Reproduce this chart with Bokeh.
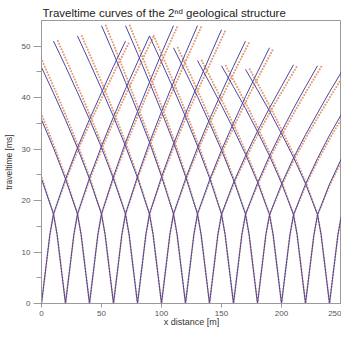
from bokeh.plotting import figure
from bokeh.models import Range1d, FixedTicker
from bokeh.embed import file_html
from bokeh.resources import INLINE

# shot positions [m] and offsets [m] at which traveltimes were read
SHOTS = [0, 20, 40, 60, 80, 100, 120, 140, 160, 180, 200, 220, 240]
OFFSETS = [0, 7, 10, 20, 30, 40, 50, 60, 70]

# traveltimes [ms] of the left-going branch of each shot (blue line)
LEFT_T = [
    [0, 13.4, 17.4, 24.2, 30.2, 35.7, 40.9, 45.9, 50.8],
    [0, 13.4, 17.4, 24.2, 30.2, 35.7, 40.9, 45.9, 50.8],
    [0, 13.4, 17.4, 24.2, 30.2, 35.7, 40.9, 45.9, 50.8],
    [0, 13.4, 17.4, 24.2, 30.2, 35.7, 40.9, 45.9, 50.8],
    [0, 13.4, 17.4, 24.2, 30.3, 35.8, 41.0, 46.1, 51.0],
    [0, 13.4, 17.4, 24.4, 30.6, 36.3, 41.7, 46.9, 52.0],
    [0, 13.4, 17.4, 24.7, 31.3, 37.3, 43.0, 48.6, 54.0],
    [0, 13.4, 17.4, 24.7, 31.3, 37.3, 43.0, 48.6, 54.0],
    [0, 13.4, 17.4, 24.4, 30.6, 36.3, 41.7, 46.9, 52.0],
    [0, 13.4, 17.4, 24.0, 29.8, 35.1, 40.2, 45.0, 49.7],
    [0, 13.4, 17.3, 23.6, 29.0, 33.9, 38.5, 42.9, 47.2],
    [0, 13.4, 17.3, 23.4, 28.7, 33.4, 37.9, 42.1, 46.2],
    [0, 13.4, 17.3, 23.3, 28.4, 33.0, 37.4, 41.5, 45.5],
]

# traveltimes [ms] of the right-going branch of each shot (blue line)
RIGHT_T = [
    [0, 13.4, 17.4, 24.2, 30.3, 35.8, 41.0, 46.1, 51.0],
    [0, 13.4, 17.4, 24.4, 30.6, 36.3, 41.7, 46.9, 52.0],
    [0, 13.4, 17.4, 24.7, 31.3, 37.3, 43.0, 48.6, 54.0],
    [0, 13.4, 17.4, 24.7, 31.3, 37.3, 43.0, 48.6, 54.0],
    [0, 13.4, 17.4, 24.6, 31.0, 36.9, 42.5, 47.9, 53.2],
    [0, 13.4, 17.4, 24.2, 30.3, 35.8, 41.0, 46.1, 51.0],
    [0, 13.4, 17.4, 24.0, 29.8, 35.1, 40.2, 45.0, 49.7],
    [0, 13.4, 17.3, 23.5, 28.7, 33.5, 38.0, 42.2, 46.4],
    [0, 13.4, 17.3, 23.4, 28.7, 33.4, 37.9, 42.1, 46.2],
    [0, 13.4, 17.2, 23.2, 28.3, 32.8, 37.0, 41.1, 45.0],
    [0, 13.3, 17.2, 23.2, 28.2, 32.7, 36.8, 40.8, 44.7],
    [0, 13.3, 17.2, 23.2, 28.2, 32.7, 36.8, 40.8, 44.7],
    [0, 13.3, 17.2, 23.2, 28.2, 32.7, 36.8, 40.8, 44.7],
]

# horizontal lag [m] of the dotted (second) curves relative to the lines
DOT_SHIFT = [0, 0, 0, 0.6, 1.2, 1.8, 2.4, 3.0, 3.6]

XTICKS = [0, 50, 100, 150, 200, 250]
YTICKS = [0, 10, 20, 30, 40, 50]

line_xs, line_ys, dot_xs, dot_ys = [], [], [], []
for s, lt, rt in zip(SHOTS, LEFT_T, RIGHT_T):
    lx = [s - o for o in OFFSETS][::-1] + [s + o for o in OFFSETS][1:]
    ly = lt[::-1] + rt[1:]
    line_xs.append(lx)
    line_ys.append(ly)
    dl = [s - o + d for o, d in zip(OFFSETS, DOT_SHIFT)][::-1]
    dr = [s + o + d for o, d in zip(OFFSETS, DOT_SHIFT)][1:]
    dot_xs.append(dl + dr)
    dot_ys.append(ly)

p = figure(width=341, height=329, output_backend="svg", toolbar_location=None,
           x_range=Range1d(0, 250), y_range=Range1d(0, 55),
           min_border_left=40, min_border_right=0, min_border_top=20,
           min_border_bottom=0)

p.title.text = "Traveltime curves of the 2\u207f\u1d48 geological structure"
p.title.text_font = "Liberation Sans"
p.title.text_font_size = "11.5px"
p.title.text_font_style = "normal"
p.title.text_color = "#222222"
p.title.align = "left"
p.title.offset = 1
p.title.standoff = 3

p.grid.visible = False
p.outline_line_color = "#9a9a9a"
p.background_fill_color = "white"
p.border_fill_color = "white"

p.multi_line(dot_xs, dot_ys, line_color="#e59a74", line_width=2.1,
             line_dash="0 3", line_cap="round")
p.multi_line(line_xs, line_ys, line_color="#4848a2", line_width=1.0)

for ax in (p.xaxis[0], p.yaxis[0]):
    ax.axis_line_color = "#9a9a9a"
    ax.major_tick_line_color = "#9a9a9a"
    ax.minor_tick_line_color = "#9a9a9a"
    ax.major_label_text_font = "Liberation Sans"
    ax.major_label_text_font_size = "8px"
    ax.major_label_text_color = "#555555"
    ax.axis_label_text_font = "Liberation Sans"
    ax.axis_label_text_font_style = "normal"
    ax.axis_label_text_color = "#333333"
    ax.major_tick_in = 0
    ax.minor_tick_in = 0

p.xaxis.ticker = FixedTicker(ticks=XTICKS, minor_ticks=[25, 75, 125, 175, 225])
p.yaxis.ticker = FixedTicker(ticks=YTICKS, minor_ticks=[5, 15, 25, 35, 45])
p.xaxis.axis_label = "x distance [m]"
p.yaxis.axis_label = "traveltime [ms]"
p.xaxis.axis_label_text_font_size = "9px"
p.yaxis.axis_label_text_font_size = "8.5px"
p.xaxis.major_tick_out = 4
p.xaxis.minor_tick_out = 0
p.xaxis.major_label_standoff = 3
p.xaxis.axis_label_standoff = -2
p.yaxis.major_tick_out = 8
p.yaxis.minor_tick_out = 5
p.yaxis.major_label_standoff = 3
p.yaxis.axis_label_standoff = 5

open("out.html", "w").write(file_html(p, INLINE))
